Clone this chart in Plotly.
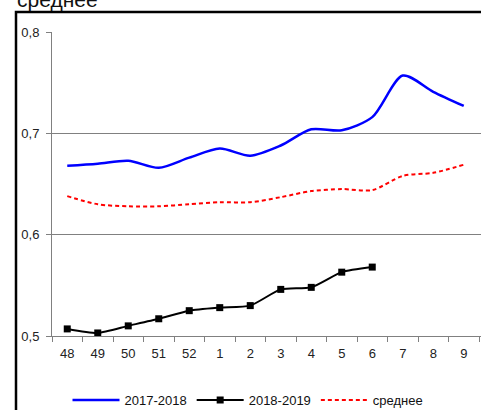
import plotly.graph_objects as go

weeks = ["48", "49", "50", "51", "52", "1", "2", "3", "4", "5", "6", "7", "8", "9"]
s2017_2018 = [0.668, 0.670, 0.673, 0.666, 0.676, 0.685, 0.678, 0.688, 0.704, 0.703, 0.716, 0.757, 0.741, 0.727]
s2018_2019 = [0.507, 0.503, 0.510, 0.517, 0.525, 0.528, 0.530, 0.546, 0.548, 0.563, 0.568]
s_mean = [0.638, 0.630, 0.628, 0.628, 0.630, 0.632, 0.632, 0.637, 0.643, 0.645, 0.644, 0.658, 0.661, 0.669]
y_ticks = [0.5, 0.6, 0.7, 0.8]

W, H = 481, 410
ML, MR, MT, MB = 52, 0, 32, 74
pw = W - ML - MR
ph = H - MT - MB

def px_x(p):
    return (p - ML) / pw

def px_y(p):
    return (H - MB - p) / ph

FONT = "Liberation Sans, Arial, sans-serif"

fig = go.Figure()
fig.add_trace(go.Scatter(x=weeks, y=s2017_2018, name="2017-2018", mode="lines",
                         line=dict(color="#0000ff", width=2.5, shape="spline", smoothing=0.8)))
fig.add_trace(go.Scatter(x=weeks[:len(s2018_2019)], y=s2018_2019, name="2018-2019", mode="lines+markers",
                         line=dict(color="#000000", width=2, shape="spline", smoothing=0.6),
                         marker=dict(symbol="square", size=7, color="#000000")))
fig.add_trace(go.Scatter(x=weeks, y=s_mean, name="среднее", mode="lines",
                         line=dict(color="#ff0000", width=2, dash="4px,3px", shape="spline", smoothing=0.8)))

fig.update_layout(
    width=W, height=H,
    margin=dict(l=ML, r=MR, t=MT, b=MB, autoexpand=False),
    paper_bgcolor="white", plot_bgcolor="white",
    separators=", ",
    font=dict(family=FONT, size=13, color="#222222"),
    showlegend=True,
    legend=dict(orientation="h", x=px_x(248), y=px_y(400), xanchor="center", yanchor="middle",
                font=dict(family=FONT, size=13, color="#111111"), itemwidth=47,
                tracegroupgap=0, bgcolor="rgba(0,0,0,0)"),
    xaxis=dict(type="category", range=[-0.5, 13.5 + 2 / 30.5], showgrid=False,
               ticks="outside", tickson="boundaries", ticklen=5, tickcolor="#808080",
               showline=True, linecolor="#808080", linewidth=1, zeroline=False,
               ticklabelstandoff=5,
               tickfont=dict(family=FONT, size=13, color="#222222")),
    yaxis=dict(range=[0.5, 0.8], tickvals=y_ticks, tickformat=".1f", showgrid=True,
               gridcolor="#808080", gridwidth=1, ticks="outside", ticklen=5, tickcolor="#808080",
               showline=True, linecolor="#808080", linewidth=1, zeroline=False,
               ticklabelstandoff=4,
               tickfont=dict(family=FONT, size=13, color="#222222")),
    shapes=[dict(type="rect", xref="paper", yref="paper",
                 x0=px_x(16), x1=px_x(W + 20), y0=px_y(H + 20), y1=px_y(12),
                 line=dict(color="black", width=2.5), fillcolor="rgba(0,0,0,0)", layer="above")],
    annotations=[dict(text="среднее", xref="paper", yref="paper", x=px_x(15), y=px_y(13),
                      xanchor="left", yanchor="bottom", showarrow=False,
                      font=dict(family=FONT, size=21, color="#111111"))],
)

fig.write_html("out.html", config={"displayModeBar": False},
               post_script="document.body.style.margin='0';document.body.style.padding='0';")
